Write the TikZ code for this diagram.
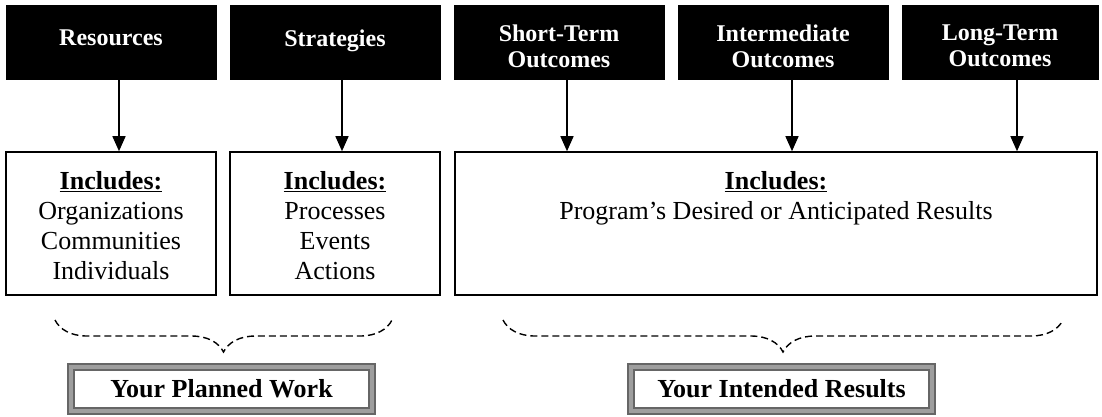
\documentclass[tikz,border=0pt]{standalone}
\usepackage{fontspec}
\setmainfont{Liberation Serif}
\usetikzlibrary{arrows.meta,decorations.pathreplacing}
\begin{document}
\begin{tikzpicture}[x=1pt,y=-1pt,
  hdrbox/.style={fill=black,draw=black,minimum height=74pt,inner sep=0pt},
  hdrtext/.style={text=white,font=\fontsize{24}{26}\selectfont\bfseries,align=center,anchor=north,inner sep=0pt},
  bodybox/.style={draw=black,line width=1.6pt,minimum height=143pt,inner sep=0pt},
  bodytext/.style={font=\fontsize{26}{30}\selectfont,align=center,anchor=north,inner sep=0pt},
  arr/.style={line width=1.5pt,-{Triangle[length=15pt,width=13pt]}},
  dbrace/.style={dashed,dash pattern=on 7pt off 4pt,line width=1.4pt,decorate,decoration={brace,mirror,amplitude=32pt}},
  sumbox/.style={draw=black!60,double=black!38,double distance=4pt,line width=2pt,fill=white,minimum width=301pt,minimum height=44pt,inner sep=0pt,font=\fontsize{26}{28}\selectfont\bfseries}
]
\useasboundingbox (0,0) rectangle (1102,416);
% header boxes
\node[hdrbox,minimum width=210pt] (hr) at (111,42) {};
\node[hdrbox,minimum width=210pt] (hs) at (335,42) {};
\node[hdrbox,minimum width=210pt] (hst) at (559,42) {};
\node[hdrbox,minimum width=210pt] (hi) at (783,42) {};
\node[hdrbox,minimum width=196pt] (hl) at (1000,42) {};
\node[hdrtext] (tr) at (111,29.5) {Resources};
\node[hdrtext] (ts) at (335,29.5) {Strategies};
\node[hdrtext] (tst) at (559,24.5) {Short-Term\\Outcomes};
\node[hdrtext] (ti) at (783,24.5) {Intermediate\\Outcomes};
\node[hdrtext] (tl) at (1000,24.5) {Long-Term\\Outcomes};
% body boxes
\node[bodybox,minimum width=210pt] (wr) at (111,223.5) {};
\node[bodybox,minimum width=210pt] (ws) at (335,223.5) {};
\node[bodybox,minimum width=642pt] (wo) at (776,223.5) {};
\node[bodytext] (br) at (111,171) {\textbf{\underline{Includes:}}\\Organizations\\Communities\\Individuals};
\node[bodytext] (bs) at (335,171) {\textbf{\underline{Includes:}}\\Processes\\Events\\Actions};
\node[bodytext] (bo) at (776,171) {\textbf{\underline{Includes:}}\\Program’s Desired or Anticipated Results};
% arrows
\coordinate (a1) at (119,0);
\coordinate (a2) at (342,0);
\coordinate (a3) at (567,0);
\coordinate (a4) at (792,0);
\coordinate (a5) at (1017,0);
\draw[arr] (hr.south -| a1) -- (wr.north -| a1);
\draw[arr] (hs.south -| a2) -- (ws.north -| a2);
\draw[arr] (hst.south -| a3) -- (wo.north -| a3);
\draw[arr] (hi.south -| a4) -- (wo.north -| a4);
\draw[arr] (hl.south -| a5) -- (wo.north -| a5);
% braces
\coordinate (b1l) at (55,320);
\coordinate (b1r) at (392,320);
\coordinate (b2l) at (503,320);
\coordinate (b2r) at (1063,320);
\draw[dbrace] (b1l) -- (b1r);
\draw[dbrace] (b2l) -- (b2r);
% summary boxes
\node[sumbox] (pw) at (221.5,389) {Your Planned Work};
\node[sumbox] (ir) at (781.5,389) {Your Intended Results};
\end{tikzpicture}
\end{document}
